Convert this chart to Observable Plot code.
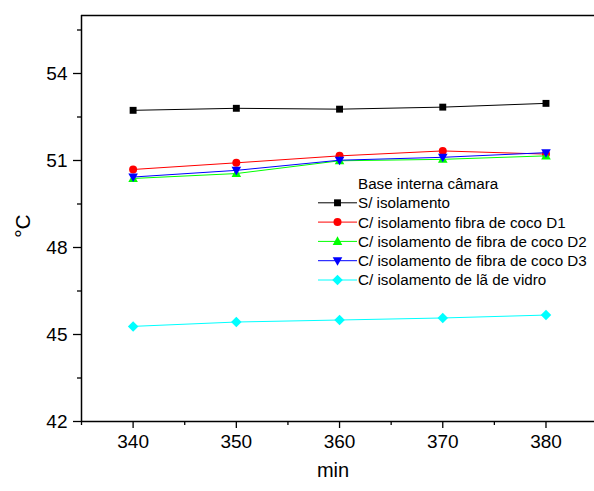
<!DOCTYPE html>
<html>
<head>
<meta charset="utf-8">
<script src="https://cdn.jsdelivr.net/npm/d3@7"></script>
<script src="https://cdn.jsdelivr.net/npm/@observablehq/plot@0.6"></script>
<style>
html,body{margin:0;padding:0;background:#fff;}
#chart{width:594px;height:491px;}
</style>
</head>
<body>
<div id="chart"></div>
<script>
const minutes = [340, 350, 360, 370, 380];
const seriesNames = [
  "S/ isolamento",
  "C/ isolamento fibra de coco D1",
  "C/ isolamento de fibra de coco D2",
  "C/ isolamento de fibra de coco D3",
  "C/ isolamento de lã de vidro"
];
const sIsolamento = [52.73, 52.80, 52.77, 52.84, 52.97];
const fibraD1 = [50.69, 50.92, 51.16, 51.33, 51.22];
const fibraD2 = [50.38, 50.55, 50.99, 51.04, 51.16];
const fibraD3 = [50.43, 50.66, 51.01, 51.11, 51.27];
const laVidro = [45.28, 45.43, 45.50, 45.57, 45.67];
const legendTitle = "Base interna câmara";
const yTicks = [42, 45, 48, 51, 54];
const yMinorTicks = [43.5, 46.5, 49.5, 52.5, 55.5];
const xTicks = [340, 350, 360, 370, 380];
const xMinorTicks = [335, 345, 355, 365, 375];

const colors = ["#000000", "#ff0000", "#00ff00", "#0000ff", "#00ffff"];
const allValues = [sIsolamento, fibraD1, fibraD2, fibraD3, laVidro];

const symSquare = {draw(ctx, size) { const h = Math.sqrt(size) / 2; ctx.moveTo(-h, -h); ctx.lineTo(h, -h); ctx.lineTo(h, h); ctx.lineTo(-h, h); ctx.closePath(); }};
const symCircle = {draw(ctx, size) { const r = Math.sqrt(size / Math.PI); ctx.moveTo(r, 0); ctx.arc(0, 0, r, 0, 2 * Math.PI); }};
const symTriUp = {draw(ctx, size) { const r = Math.sqrt(size / Math.PI) * 1.2; ctx.moveTo(0, -r); ctx.lineTo(r * 0.95, r * 0.7); ctx.lineTo(-r * 0.95, r * 0.7); ctx.closePath(); }};
const symTriDown = {draw(ctx, size) { const r = Math.sqrt(size / Math.PI) * 1.2; ctx.moveTo(0, r); ctx.lineTo(r * 0.95, -r * 0.7); ctx.lineTo(-r * 0.95, -r * 0.7); ctx.closePath(); }};
const symDiamond = {draw(ctx, size) { const r = Math.sqrt(size / Math.PI) * 1.25; ctx.moveTo(0, -r); ctx.lineTo(r, 0); ctx.lineTo(0, r); ctx.lineTo(-r, 0); ctx.closePath(); }};
const symbols = [symSquare, symCircle, symTriUp, symTriDown, symDiamond];
const radii = [3.9, 4.0, 4.2, 4.2, 4.2];

const rows = [];
seriesNames.forEach((name, i) => {
  minutes.forEach((m, j) => rows.push({series: name, idx: i, x: m, y: allValues[i][j]}));
});

const marks = [];
seriesNames.forEach((name, i) => {
  const d = rows.filter(r => r.idx === i);
  marks.push(Plot.line(d, {x: "x", y: "y", stroke: colors[i], strokeWidth: 1}));
  marks.push(Plot.dot(d, {x: "x", y: "y", fill: colors[i], stroke: "none", symbol: symbols[i], r: radii[i]}));
});

const plot = Plot.plot({
  width: 594,
  height: 491,
  marginLeft: 81,
  marginRight: 0,
  marginTop: 15,
  marginBottom: 70,
  style: {fontFamily: "'Liberation Sans', Arial, sans-serif", fontSize: "19px", color: "#000", background: "#fff"},
  x: {domain: [335, 384.7]},
  y: {domain: [42, 56]},
  marks: [
    Plot.axisX({ticks: xTicks, tickSize: 7, tickPadding: 6, tickFormat: d => String(d), label: null, strokeWidth: 1.3}),
    Plot.axisX({ticks: xMinorTicks, tickSize: 4, tickFormat: null, text: null, label: null, strokeWidth: 1.3}),
    Plot.axisY({ticks: yTicks, tickSize: 8, tickPadding: 6, tickFormat: d => String(d), label: null, strokeWidth: 1.3}),
    Plot.axisY({ticks: yMinorTicks, tickSize: 4, text: null, label: null, strokeWidth: 1.3}),
    Plot.ruleY([56], {stroke: "#000", strokeWidth: 1.5}),
    Plot.ruleY([42], {stroke: "#000", strokeWidth: 1.5}),
    Plot.ruleX([335], {stroke: "#000", strokeWidth: 1.5}),
    ...marks
  ]
});
document.getElementById("chart").appendChild(plot);

const svg = d3.select(plot);
// Axis titles
svg.append("text").attr("x", 333).attr("y", 470).attr("dy", "0.36em").attr("text-anchor", "middle")
  .attr("font-size", "20px").attr("font-family", "'Liberation Sans', Arial, sans-serif").text("min");
svg.append("text").attr("transform", "translate(22,226) rotate(-90)").attr("dy", "0.36em").attr("text-anchor", "middle")
  .attr("font-size", "21px").attr("font-family", "'Liberation Sans', Arial, sans-serif").text("°C");

// Legend
const lg = svg.append("g").attr("font-family", "'Liberation Sans', Arial, sans-serif").attr("font-size", "15.2px").attr("fill", "#000").attr("text-anchor", "start");
const lx0 = 318, lx1 = 357, ltx = 358, ly0 = 183.5, lstep = 19.3;
lg.append("text").attr("x", ltx).attr("y", ly0).attr("dy", "0.36em").text(legendTitle);
seriesNames.forEach((name, i) => {
  const y = ly0 + lstep * (i + 1);
  lg.append("line").attr("x1", lx0).attr("x2", lx1).attr("y1", y).attr("y2", y).attr("stroke", colors[i]).attr("stroke-width", 1);
  const r = radii[i];
  lg.append("path").attr("transform", `translate(${(lx0 + lx1) / 2},${y})`).attr("fill", colors[i]).attr("d", d3.symbol(symbols[i], Math.PI * r * r)());
  lg.append("text").attr("x", ltx).attr("y", y).attr("dy", "0.36em").text(name);
});
</script>
</body>
</html>
